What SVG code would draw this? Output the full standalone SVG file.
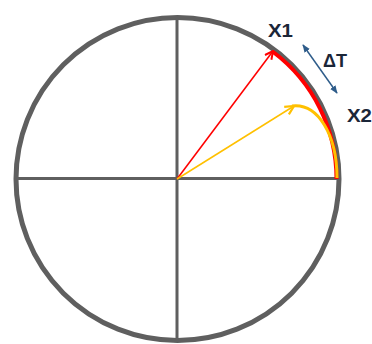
<svg xmlns="http://www.w3.org/2000/svg" width="372" height="344" viewBox="0 0 372 344">
<defs>
<style>
.lbl{font-family:"Liberation Sans",Arial,sans-serif;font-weight:bold;font-size:18px;fill:#1b2638}
.ax{stroke:#5f5f5f;stroke-width:3;fill:none}
</style>
<marker id="mr" viewBox="0 0 10 10" refX="9" refY="5" markerWidth="10" markerHeight="10" markerUnits="userSpaceOnUse" orient="auto"><path d="M1,1 L9,5 L1,9" fill="none" stroke="#ff0000" stroke-width="2"/></marker>
<marker id="my" viewBox="0 0 10 10" refX="9" refY="5" markerWidth="11" markerHeight="11" markerUnits="userSpaceOnUse" orient="auto"><path d="M1,1 L9,5 L1,9" fill="none" stroke="#ffc000" stroke-width="2"/></marker>
<marker id="mb" viewBox="0 0 10 10" refX="9" refY="5" markerWidth="8" markerHeight="8" markerUnits="userSpaceOnUse" orient="auto-start-reverse"><path d="M0,1 L10,5 L0,9 Z" fill="#2e5c8a"/></marker>
</defs>
<g id="circle">
<circle cx="177.5" cy="179" r="161.5" fill="none" stroke="#5f5f5f" stroke-width="5"/>
<line class="ax" x1="16" y1="178.5" x2="339" y2="178.5"/>
<line class="ax" x1="177" y1="18" x2="177" y2="340"/>
</g>
<g id="connectors">
<path d="M273.2 52 A159 159 0 0 1 336.5 179" fill="none" stroke="#ff0000" stroke-width="4"/>
<path d="M292 106 C318 103 337 135 337 178" fill="none" stroke="#ffc000" stroke-width="3"/>
<line x1="177" y1="179" x2="273" y2="51" stroke="#ff0000" stroke-width="1.5" marker-end="url(#mr)"/>
<line x1="177" y1="179" x2="294" y2="106" stroke="#ffc000" stroke-width="1.5" marker-end="url(#my)"/>
<line x1="303" y1="45" x2="337" y2="93" stroke="#2e5c8a" stroke-width="1.5" marker-start="url(#mb)" marker-end="url(#mb)"/>
</g>
<g id="labels">
<text class="lbl" x="268" y="37" textLength="25" lengthAdjust="spacingAndGlyphs">X1</text>
<text class="lbl" x="323" y="67" textLength="24" lengthAdjust="spacingAndGlyphs">ΔT</text>
<text class="lbl" x="347" y="122" textLength="25" lengthAdjust="spacingAndGlyphs">X2</text>
</g>
</svg>
